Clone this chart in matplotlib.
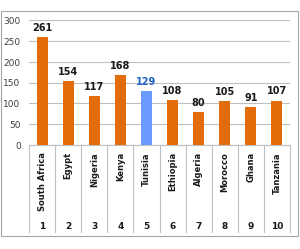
import matplotlib
matplotlib.use("Agg")
import matplotlib.pyplot as plt
from matplotlib.patches import Rectangle
from matplotlib.transforms import blended_transform_factory

countries = ["South Africa", "Egypt", "Nigeria", "Kenya", "Tunisia",
             "Ethiopia", "Algeria", "Morocco", "Ghana", "Tanzania"]
ranks = ["1", "2", "3", "4", "5", "6", "7", "8", "9", "10"]
values = [261, 154, 117, 168, 129, 108, 80, 105, 91, 107]
highlight = "Tunisia"

orange = "#E36C0A"
blue = "#6C9BFF"
label_blue = "#1F5FC8"

fig = plt.figure(figsize=(3.0, 2.49), dpi=100)
fig.patch.set_facecolor("white")
fig.patches.append(Rectangle((1/300, 1-236/249), 297/300, 225/249,
                             transform=fig.transFigure, fill=False,
                             edgecolor="#A6A6A6", linewidth=0.8))

ax = fig.add_axes([29/300, 1-145/249, 261/300, 124.5/249])
x = list(range(len(countries)))
colors = [blue if c == highlight else orange for c in countries]
ax.bar(x, values, width=0.42, color=colors, zorder=3)

ax.set_xlim(-0.5, len(countries)-0.5)
ax.set_ylim(0, 300)
ax.set_yticks([0, 50, 100, 150, 200, 250, 300])
ax.tick_params(axis="y", length=0, labelsize=6.5, labelcolor="#404040", pad=6)
ax.set_xticks([])
ax.grid(axis="y", color="#BFBFBF", linewidth=0.8, zorder=0)
for s in ["top", "right", "left"]:
    ax.spines[s].set_visible(False)
ax.spines["bottom"].set_color("#BFBFBF")
ax.spines["bottom"].set_linewidth(0.8)

for xi, v, c in zip(x, values, countries):
    ax.annotate(str(v), (xi, v), xytext=(0, 3), textcoords="offset points",
                ha="center", va="bottom", fontsize=7, fontweight="bold",
                color=label_blue if c == highlight else "#1A1A1A")

tr = blended_transform_factory(ax.transData, ax.transAxes)
bottom = -(232-145)/124.5
for i in range(len(countries)+1):
    ax.plot([i-0.5, i-0.5], [0, bottom], transform=tr, color="#BFBFBF",
            linewidth=0.8, clip_on=False)
for xi, c, r in zip(x, countries, ranks):
    ax.text(xi, -(152-145)/124.5, c, transform=tr, rotation=90,
            ha="center", va="top", fontsize=6, fontweight="bold", color="#1A1A1A")
    ax.text(xi, -(226-145)/124.5, r, transform=tr,
            ha="center", va="center", fontsize=6.5, fontweight="bold", color="#1A1A1A")

fig.savefig("out.png", dpi=100)
